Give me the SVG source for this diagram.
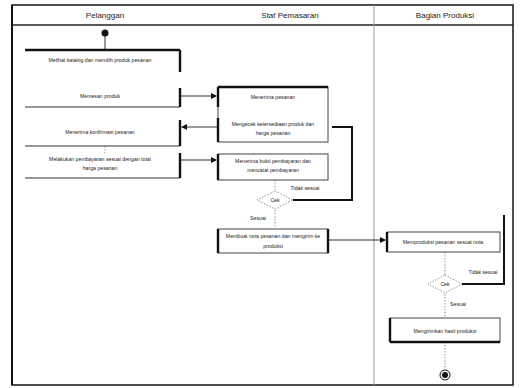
<svg xmlns="http://www.w3.org/2000/svg" width="521" height="388" viewBox="0 0 521 388">
<style>
.lane{fill:none;stroke:#222;stroke-width:1.6}
.div{stroke:#999;stroke-width:1}
.hd{font-family:"Liberation Sans",Arial,sans-serif;font-size:8px;fill:#222;text-anchor:middle}
.t{font-family:"Liberation Sans",Arial,sans-serif;font-size:5.2px;fill:#222;text-anchor:middle}
.lb{font-family:"Liberation Sans",Arial,sans-serif;font-size:5.2px;fill:#222;text-anchor:middle}
.box{fill:#fff;stroke:#444;stroke-width:1}
.ln{stroke:#333;stroke-width:1.2}
.bar{stroke:#111;stroke-width:2.4}
.c{fill:none;stroke:#333;stroke-width:1}
.thk{fill:none;stroke:#111;stroke-width:2}
.dot{fill:none;stroke:#777;stroke-width:0.8;stroke-dasharray:1.5 1.5}
.dm{fill:#fff;stroke:#777;stroke-width:0.8;stroke-dasharray:1.5 1.5}
</style>
<defs>
<marker id="ah" markerWidth="6" markerHeight="6" refX="5" refY="3" orient="auto" markerUnits="userSpaceOnUse">
<path d="M0,0 L6,3 L0,6 z" fill="#111"/>
</marker>
</defs>
<rect width="521" height="388" fill="#fff"/>
<g id="lanes">
<rect class="lane" x="12" y="5" width="501" height="380"/>
<line x1="12" y1="5" x2="12" y2="385" stroke="#111" stroke-width="2"/>
<line x1="12" y1="25" x2="513" y2="25" stroke="#222" stroke-width="1.6"/>
<line class="div" x1="374" y1="5" x2="374" y2="385"/>
<text class="hd" x="105" y="18">Pelanggan</text>
<text class="hd" x="290" y="18">Staf Pemasaran</text>
<text class="hd" x="445" y="18">Bagian Produksi</text>
</g>
<g id="connectors">
<line class="c" x1="105" y1="34" x2="105" y2="50"/>
<line class="c" x1="180" y1="96" x2="216" y2="96" marker-end="url(#ah)"/>
<line class="c" x1="218" y1="127" x2="182" y2="127" marker-end="url(#ah)"/>
<line class="dot" x1="105" y1="146" x2="105" y2="153"/>
<line class="c" x1="180" y1="160" x2="216" y2="160" marker-end="url(#ah)"/>
<line class="dot" x1="275" y1="180" x2="275" y2="190"/>
<line class="dot" x1="275" y1="210" x2="275" y2="228"/>
<polyline class="thk" points="293,200 352,200 352,127 332,127"/>
<line class="c" x1="328" y1="240" x2="385" y2="240" marker-end="url(#ah)"/>
<line class="dot" x1="445" y1="252" x2="445" y2="275"/>
<polyline class="thk" points="462,284 504,284 504,215"/>
<line class="dot" x1="445" y1="294" x2="445" y2="318"/>
<line class="dot" x1="445" y1="342" x2="445" y2="368"/>
</g>
<g id="start"><circle cx="105" cy="33" r="3.5" fill="#111"/></g>
<g id="a1">
<line class="bar" x1="25" y1="50" x2="180" y2="50"/>
<line class="ln" x1="25" y1="107" x2="180" y2="107"/>
<line class="bar" x1="180" y1="50" x2="180" y2="72"/>
<line class="bar" x1="180" y1="88" x2="180" y2="107"/>
<text class="t" x="100" y="62">Melihat katalog dan memilih produk pesanan</text>
<text class="t" x="100" y="98">Memesan produk</text>
</g>
<g id="a3">
<line class="ln" x1="25" y1="146" x2="180" y2="146"/>
<line class="bar" x1="180" y1="120" x2="180" y2="146"/>
<text class="t" x="100" y="134">Menerima konfirmasi pesanan</text>
</g>
<g id="a4">
<line class="ln" x1="25" y1="178" x2="180" y2="178"/>
<line class="bar" x1="180" y1="153" x2="180" y2="178"/>
<text class="t" x="100" y="161">Melakukan pembayaran sesuai dengan total</text>
<text class="t" x="100" y="170">harga pesanan</text>
</g>
<g id="s1">
<rect class="box" x="218" y="87" width="110" height="55"/>
<line class="bar" x1="218" y1="87" x2="328" y2="87"/>
<line class="bar" x1="218" y1="87" x2="218" y2="107"/>
<line class="bar" x1="218" y1="118" x2="218" y2="142"/>
<text class="t" x="273" y="99">Menerima pesanan</text>
<text class="t" x="273" y="126">Mengecek ketersediaan produk dan</text>
<text class="t" x="273" y="135">harga pesanan</text>
</g>
<g id="s3">
<rect class="box" x="218" y="154" width="110" height="26"/>
<line class="bar" x1="218" y1="154" x2="218" y2="180"/>
<text class="t" x="273" y="163">Menerima bukti pembayaran dan</text>
<text class="t" x="273" y="172">mencatat pembayaran</text>
</g>
<g id="d1">
<polygon class="dm" points="275,191 293,200 275,209 257,200"/>
<text class="t" x="275" y="202">Cek</text>
<text class="lb" x="305" y="190">Tidak sesuai</text>
<text class="lb" x="258" y="220">Sesuai</text>
</g>
<g id="s4">
<rect class="box" x="218" y="229" width="110" height="24"/>
<line class="bar" x1="218" y1="229" x2="218" y2="253"/>
<line class="bar" x1="328" y1="229" x2="328" y2="253"/>
<text class="t" x="273" y="238">Membuat nota pesanan dan mengirim ke</text>
<text class="t" x="273" y="248">produksi</text>
</g>
<g id="p1">
<rect class="box" x="387" y="232" width="113" height="20"/>
<line class="bar" x1="387" y1="232" x2="387" y2="252"/>
<text class="t" x="443" y="244">Memproduksi pesanan sesuai nota</text>
</g>
<g id="d2">
<polygon class="dm" points="445,275 462,284 445,293 428,284"/>
<text class="t" x="445" y="286">Cek</text>
<text class="lb" x="483" y="274">Tidak sesuai</text>
<text class="lb" x="458" y="306">Sesuai</text>
</g>
<g id="p2">
<rect class="box" x="390" y="318" width="110" height="24"/>
<line class="bar" x1="390" y1="342" x2="500" y2="342"/>
<line class="bar" x1="390" y1="318" x2="390" y2="342"/>
<text class="t" x="445" y="333">Mengirimkan hasil produksi</text>
</g>
<g id="end">
<circle cx="445" cy="375" r="5" fill="#fff" stroke="#111" stroke-width="1"/>
<circle cx="445" cy="375" r="3" fill="#111"/>
</g>
</svg>
